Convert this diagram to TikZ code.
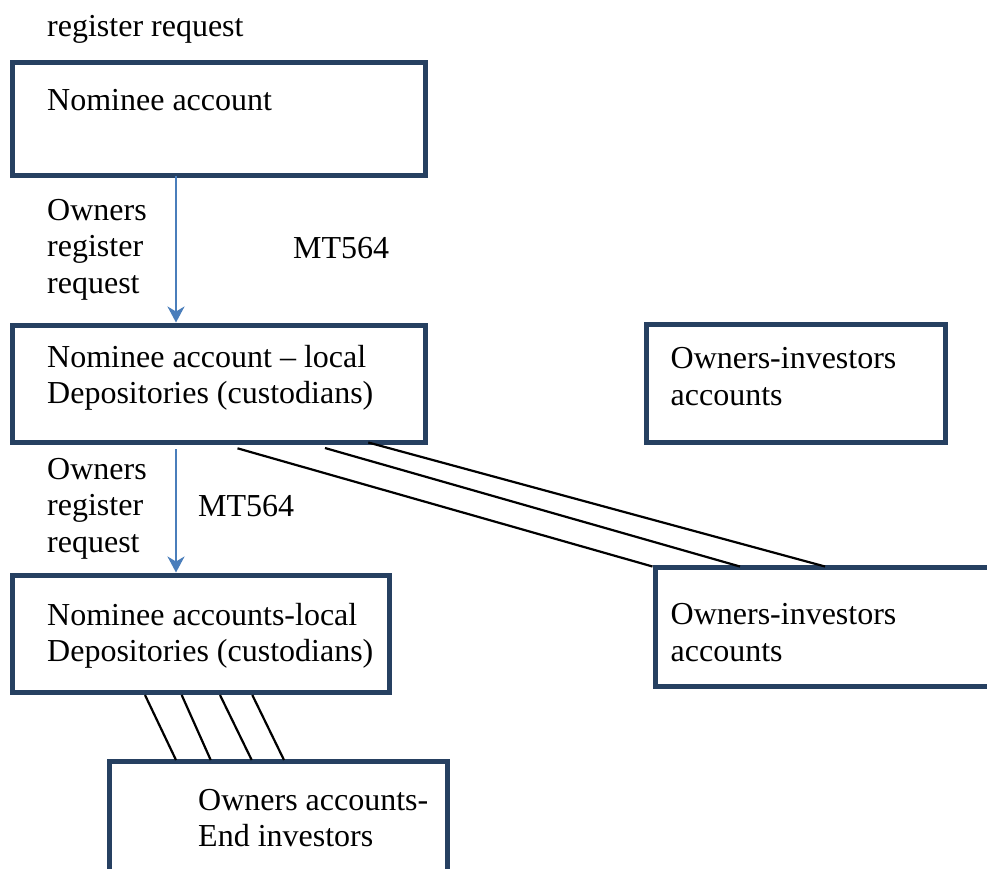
\documentclass[tikz,border=0pt]{standalone}
\usepackage{fontspec}
\setmainfont{Liberation Serif}
\usetikzlibrary{arrows.meta,calc}
\definecolor{boxline}{RGB}{38,64,97}
\definecolor{flowblue}{RGB}{74,126,187}
\begin{document}
\begin{tikzpicture}[x=1pt,y=-1pt,
  acct/.style={draw=boxline,line width=4.5pt,rectangle,inner sep=0pt,outer sep=0pt,anchor=north west},
  txt/.style={anchor=base west,inner sep=0pt,align=left,font=\fontsize{32}{36.5}\selectfont},
  flow/.style={draw=flowblue,line width=2.5pt,-{Stealth[length=16pt,width=17pt,inset=5pt]}},
  link/.style={draw=black,line width=2.2pt}]
\clip (0,0) rectangle (987,868);
\fill[white] (0,0) rectangle (987,868);

% account boxes
\node[acct,minimum width=413pt,minimum height=113pt] (b1) at (12.5,62.5) {};
\node[acct,minimum width=413pt,minimum height=117pt] (b2) at (12.5,325.5) {};
\node[acct,minimum width=299pt,minimum height=118pt] (b3) at (646.5,324.5) {};
\node[acct,minimum width=400pt,minimum height=119pt] (b4) at (655.5,567.5) {};
\node[acct,minimum width=377pt,minimum height=117pt] (b5) at (12.5,575.5) {};
\node[acct,minimum width=338pt,minimum height=160pt] (b6) at (109.5,761.5) {};

% texts (multi-line nodes sit on the baseline of their last line)
\node[txt] (t0) at (47,36.5) {register request};
\node[txt] (t1) at (47,110) {Nominee account};
\node[txt] (l1) at (47,293) {Owners\\register\\request};
\node[txt] (m1) at (293,258) {MT564};
\node[txt] (t2) at (47,403.5) {Nominee account -- local\\Depositories (custodians)};
\node[txt] (t3) at (670.5,405) {Owners-investors\\accounts};
\node[txt] (l2) at (47,552) {Owners\\register\\request};
\node[txt] (m2) at (198,516) {MT564};
\node[txt] (t5) at (47,661.5) {Nominee accounts-local\\Depositories (custodians)};
\node[txt] (t4) at (670.5,661) {Owners-investors\\accounts};
\node[txt] (t6) at (198,846.5) {Owners accounts-\\End investors};

% request flows
\draw[flow] ($(b1.south west)+(163.5,0)$) -- ($(b2.north west)+(163.5,-3)$);
\draw[flow] ($(b2.south west)+(163.5,6.5)$) -- ($(b5.north west)+(163.5,-3)$);

% links to the owners-investors accounts
\draw[link] ($(b2.south west)+(225,5.8)$) -- ($(b4.north west)+(-3,-1)$);
\draw[link] ($(b2.south west)+(312.5,5.5)$) -- ($(b4.north west)+(84.5,-1)$);
\draw[link] ($(b2.south west)+(355.8,0)$) -- ($(b4.north west)+(169.5,-1)$);

% links to the end investors
\draw[link] ($(b5.south west)+(132.5,2.5)$) -- ($(b6.north west)+(66.5,-1.5)$);
\draw[link] ($(b5.south west)+(169.2,2.5)$) -- ($(b6.north west)+(101.2,-1.5)$);
\draw[link] ($(b5.south west)+(207.5,2.5)$) -- ($(b6.north west)+(142.2,-1.5)$);
\draw[link] ($(b5.south west)+(239.8,2.5)$) -- ($(b6.north west)+(174.5,-1.5)$);
\end{tikzpicture}
\end{document}
